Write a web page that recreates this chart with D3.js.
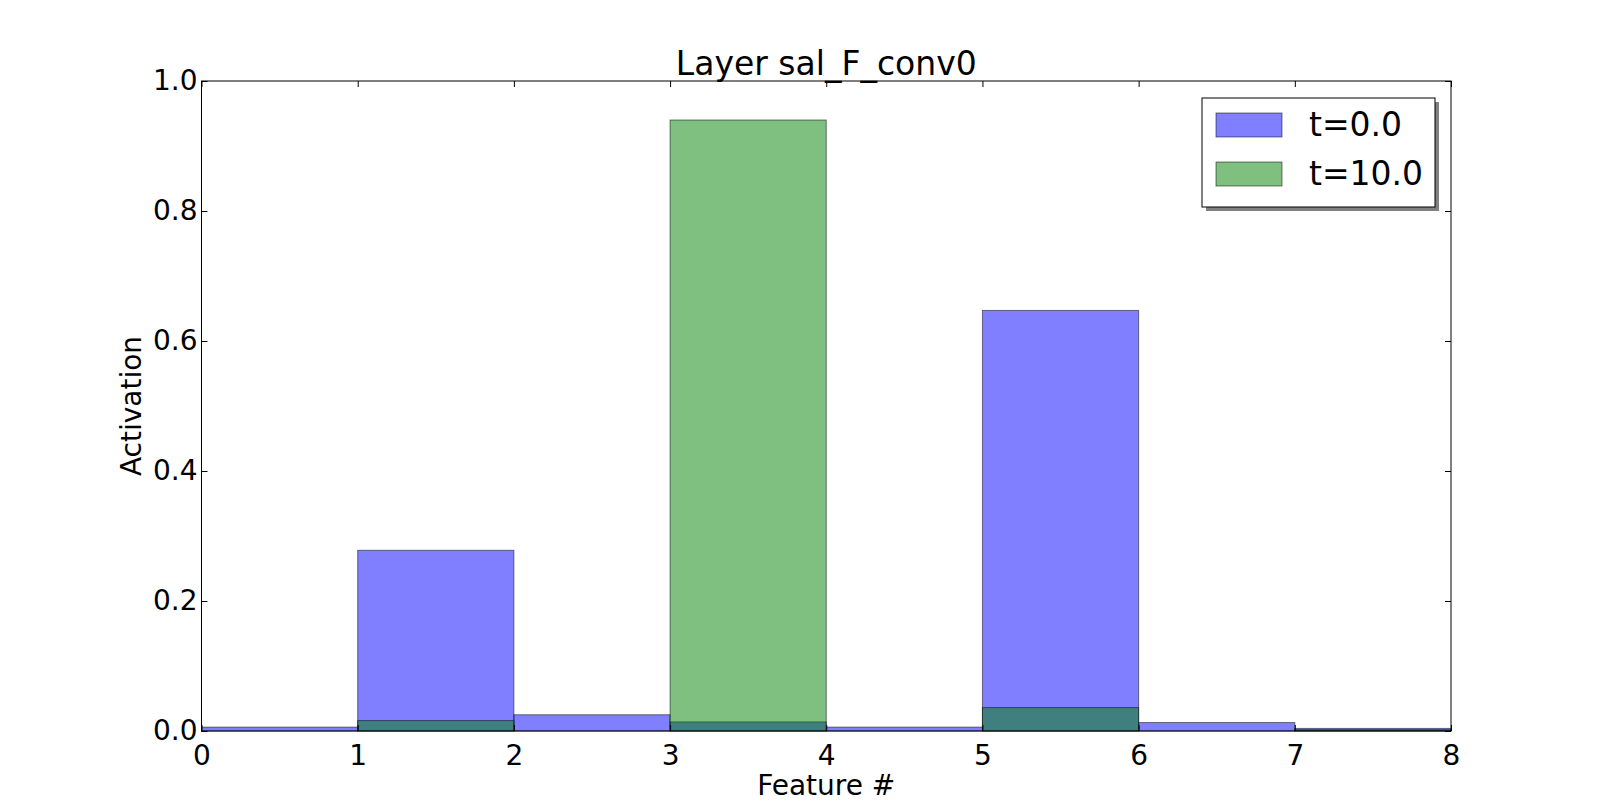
<!DOCTYPE html>
<html>
<head>
<meta charset="utf-8">
<script src="https://cdn.jsdelivr.net/npm/d3@7"></script>
<style>
  body { margin: 0; background: #fff; }
  text { font-family: "DejaVu Sans", sans-serif; fill: #000; }
</style>
</head>
<body>
<div id="chart"></div>
<script>
// values, one per feature bin
const features = [0, 1, 2, 3, 4, 5, 6, 7];
const seriesNames = ["t=0.0", "t=10.0"];
const actT0 = [0.006, 0.278, 0.025, 0.014, 0.006, 0.647, 0.013, 0.004];
const actT10 = [0.0, 0.016, 0.0, 0.940, 0.0, 0.036, 0.0, 0.002];
const xTicks = [0, 1, 2, 3, 4, 5, 6, 7, 8];
const yTicks = [0.0, 0.2, 0.4, 0.6, 0.8, 1.0];

const width = 1612, height = 812;
const margin = {left: 201.5, right: 161, top: 81, bottom: 81};
const iw = width - margin.left - margin.right;
const ih = height - margin.top - margin.bottom;

const svg = d3.select("#chart").append("svg")
    .attr("width", width)
    .attr("height", height);

const g = svg.append("g")
    .attr("transform", `translate(${margin.left},${margin.top})`);

const x = d3.scaleLinear().domain([0, 8]).range([0, iw]);
const y = d3.scaleLinear().domain([0, 1]).range([ih, 0]);

const colors = ["#0000ff", "#008000"];
const series = [actT0, actT10];

series.forEach((vals, si) => {
    g.append("g").selectAll("rect")
        .data(features)
        .enter()
        .append("rect")
        .attr("x", d => x(d))
        .attr("width", d => x(d + 1) - x(d))
        .attr("y", d => y(vals[d]))
        .attr("height", d => y(0) - y(vals[d]))
        .attr("fill", colors[si])
        .attr("fill-opacity", 0.5)
        .attr("stroke", "#000")
        .attr("stroke-opacity", 0.5)
        .attr("stroke-width", 1);
});

// frame
g.append("rect")
    .attr("width", iw).attr("height", ih)
    .attr("fill", "none")
    .attr("stroke", "#000")
    .attr("stroke-width", 1);

const tickLen = 6;
const fmtY = d3.format(".1f");

const xb = g.append("g").attr("transform", `translate(0,${ih})`)
    .call(d3.axisBottom(x).tickValues(xTicks).tickFormat(d3.format("d"))
        .tickSizeInner(-tickLen).tickSizeOuter(0).tickPadding(14));
const xt = g.append("g")
    .call(d3.axisTop(x).tickValues(xTicks).tickFormat("")
        .tickSizeInner(-tickLen).tickSizeOuter(0));
const yl = g.append("g")
    .call(d3.axisLeft(y).tickValues(yTicks).tickFormat(fmtY)
        .tickSizeInner(-tickLen).tickSizeOuter(0).tickPadding(4));
const yr = g.append("g").attr("transform", `translate(${iw},0)`)
    .call(d3.axisRight(y).tickValues(yTicks).tickFormat("")
        .tickSizeInner(-tickLen).tickSizeOuter(0));

[xb, xt, yl, yr].forEach(a => {
    a.select(".domain").remove();
    a.selectAll("line").attr("stroke", "#000");
    a.selectAll("text").style("font-size", "28px").style("font-family", "DejaVu Sans");
});

// title and axis labels
svg.append("text")
    .attr("x", margin.left + iw / 2)
    .attr("y", 75)
    .attr("text-anchor", "middle")
    .style("font-size", "33px")
    .text("Layer sal_F_conv0");

svg.append("text")
    .attr("x", margin.left + iw / 2)
    .attr("y", 795)
    .attr("text-anchor", "middle")
    .style("font-size", "28px")
    .text("Feature #");

svg.append("text")
    .attr("transform", `translate(141,${margin.top + ih / 2}) rotate(-90)`)
    .attr("text-anchor", "middle")
    .style("font-size", "28px")
    .text("Activation");

// legend
const lg = svg.append("g").attr("transform", "translate(1202,98)");
lg.append("rect")
    .attr("x", 4).attr("y", 4)
    .attr("width", 233).attr("height", 109)
    .attr("fill", "#808080");
lg.append("rect")
    .attr("width", 233).attr("height", 109)
    .attr("fill", "#fff")
    .attr("stroke", "#000")
    .attr("stroke-width", 1);

seriesNames.forEach((name, i) => {
    const row = lg.append("g").attr("transform", `translate(0,${15 + i * 49})`);
    row.append("rect")
        .attr("x", 14).attr("width", 66).attr("height", 24)
        .attr("fill", colors[i])
        .attr("fill-opacity", 0.5)
        .attr("stroke", "#000")
        .attr("stroke-opacity", 0.5);
    row.append("text")
        .attr("x", 107).attr("y", 11)
        .attr("dy", "0.36em")
        .style("font-size", "33px")
        .text(name);
});
</script>
</body>
</html>
